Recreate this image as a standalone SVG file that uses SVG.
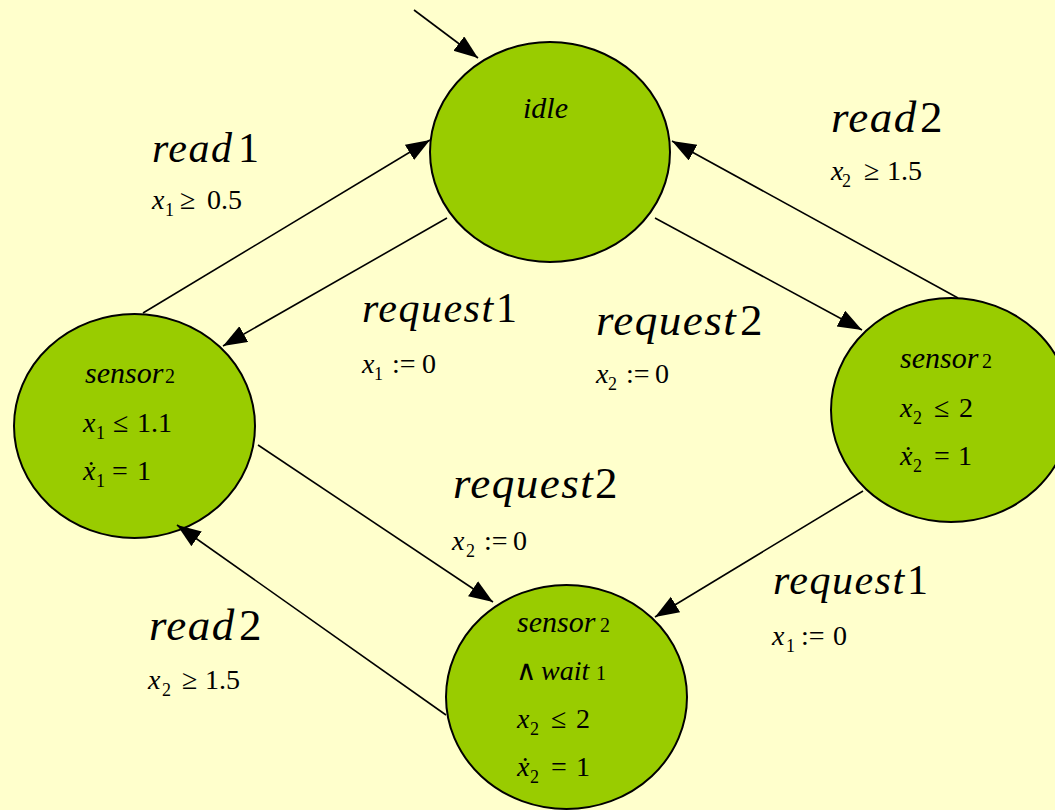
<svg xmlns="http://www.w3.org/2000/svg" width="1055" height="810" viewBox="0 0 1055 810">
<defs>
<marker id="arr" markerUnits="userSpaceOnUse" markerWidth="26" markerHeight="20" refX="24" refY="9" orient="auto">
<path d="M0,0 L24,9 L0,18 z" fill="#000"/>
</marker>
</defs>
<rect x="0" y="0" width="1055" height="810" fill="#FFFFCC"/>

<g id="idle">
<ellipse cx="550" cy="152" rx="120" ry="110" fill="#99CC00" stroke="#000" stroke-width="2"/>
<text x="523" y="118" font-family="Liberation Serif" font-size="30" font-style="italic">idle</text>
</g>

<g id="sensor2-left">
<ellipse cx="134.5" cy="426" rx="120.5" ry="112" fill="#99CC00" stroke="#000" stroke-width="2"/>
<text x="85" y="383" font-family="Liberation Serif" font-size="30" font-style="italic">sensor</text>
<text x="165" y="383" font-family="Liberation Serif" font-size="20">2</text>
<text x="83" y="432" font-family="Liberation Serif" font-size="28" font-style="italic">x</text>
<text x="96" y="439" font-family="Liberation Serif" font-size="18">1</text>
<text x="113" y="432" font-family="Liberation Serif" font-size="28">&#x2264;</text>
<text x="137" y="432" font-family="Liberation Serif" font-size="28">1.1</text>
<text x="83" y="480" font-family="Liberation Serif" font-size="28" font-style="italic">&#x1E8B;</text>
<text x="96" y="487" font-family="Liberation Serif" font-size="18">1</text>
<text x="112" y="480" font-family="Liberation Serif" font-size="28">=</text>
<text x="137" y="480" font-family="Liberation Serif" font-size="28">1</text>
</g>

<g id="sensor2-right">
<ellipse cx="951" cy="410" rx="120" ry="112" fill="#99CC00" stroke="#000" stroke-width="2"/>
<text x="900" y="368" font-family="Liberation Serif" font-size="30" font-style="italic">sensor</text>
<text x="982" y="368" font-family="Liberation Serif" font-size="20">2</text>
<text x="900" y="417" font-family="Liberation Serif" font-size="28" font-style="italic">x</text>
<text x="913" y="424" font-family="Liberation Serif" font-size="18">2</text>
<text x="934" y="417" font-family="Liberation Serif" font-size="28">&#x2264;</text>
<text x="959" y="417" font-family="Liberation Serif" font-size="28">2</text>
<text x="900" y="465" font-family="Liberation Serif" font-size="28" font-style="italic">&#x1E8B;</text>
<text x="913" y="472" font-family="Liberation Serif" font-size="18">2</text>
<text x="934" y="465" font-family="Liberation Serif" font-size="28">=</text>
<text x="958" y="465" font-family="Liberation Serif" font-size="28">1</text>
</g>

<g id="sensor2-wait1">
<ellipse cx="566.5" cy="697" rx="120.5" ry="112" fill="#99CC00" stroke="#000" stroke-width="2"/>
<text x="517" y="632" font-family="Liberation Serif" font-size="30" font-style="italic">sensor</text>
<text x="600" y="632" font-family="Liberation Serif" font-size="20">2</text>
<text x="516" y="680" font-family="Liberation Serif" font-size="28">&#x2227;</text>
<text x="541" y="680" font-family="Liberation Serif" font-size="28" font-style="italic">wait</text>
<text x="596" y="680" font-family="Liberation Serif" font-size="20">1</text>
<text x="517" y="728" font-family="Liberation Serif" font-size="28" font-style="italic">x</text>
<text x="530" y="735" font-family="Liberation Serif" font-size="18">2</text>
<text x="551" y="728" font-family="Liberation Serif" font-size="28">&#x2264;</text>
<text x="576" y="728" font-family="Liberation Serif" font-size="28">2</text>
<text x="517" y="776" font-family="Liberation Serif" font-size="28" font-style="italic">&#x1E8B;</text>
<text x="530" y="783" font-family="Liberation Serif" font-size="18">2</text>
<text x="551" y="776" font-family="Liberation Serif" font-size="28">=</text>
<text x="576" y="776" font-family="Liberation Serif" font-size="28">1</text>
</g>

<g id="connectors" stroke="#000" stroke-width="1.6" fill="none" marker-end="url(#arr)">
<line x1="414" y1="10" x2="478" y2="58"/>
<line x1="143" y1="313" x2="430" y2="140"/>
<line x1="447" y1="218" x2="223" y2="346"/>
<line x1="958" y1="298" x2="672" y2="141"/>
<line x1="655" y1="218" x2="862" y2="330"/>
<line x1="258" y1="445" x2="493" y2="602"/>
<line x1="446" y1="715" x2="177" y2="525"/>
<line x1="863" y1="491" x2="655" y2="617"/>
</g>

<g id="labels">
<text x="152" y="162" font-family="Liberation Serif" font-size="42" font-style="italic" letter-spacing="1.5">read</text>
<text x="238" y="162" font-family="Liberation Serif" font-size="42">1</text>
<text x="152" y="209" font-family="Liberation Serif" font-size="28" font-style="italic">x</text>
<text x="165" y="216" font-family="Liberation Serif" font-size="18">1</text>
<text x="180" y="209" font-family="Liberation Serif" font-size="28">&#x2265;</text>
<text x="207" y="209" font-family="Liberation Serif" font-size="28">0.5</text>

<text x="362" y="322" font-family="Liberation Serif" font-size="42" font-style="italic" letter-spacing="1.5">request</text>
<text x="496" y="322" font-family="Liberation Serif" font-size="42">1</text>
<text x="362" y="373" font-family="Liberation Serif" font-size="28" font-style="italic">x</text>
<text x="374" y="380" font-family="Liberation Serif" font-size="18">1</text>
<text x="392" y="373" font-family="Liberation Serif" font-size="28">:=</text>
<text x="422" y="373" font-family="Liberation Serif" font-size="28">0</text>

<text x="596" y="335" font-family="Liberation Serif" font-size="45" font-style="italic" letter-spacing="1.5">request</text>
<text x="740" y="335" font-family="Liberation Serif" font-size="45">2</text>
<text x="596" y="383" font-family="Liberation Serif" font-size="28" font-style="italic">x</text>
<text x="608" y="390" font-family="Liberation Serif" font-size="18">2</text>
<text x="626" y="383" font-family="Liberation Serif" font-size="28">:=</text>
<text x="655" y="383" font-family="Liberation Serif" font-size="28">0</text>

<text x="831" y="132" font-family="Liberation Serif" font-size="45" font-style="italic" letter-spacing="1.5">read</text>
<text x="920" y="132" font-family="Liberation Serif" font-size="45">2</text>
<text x="831" y="180" font-family="Liberation Serif" font-size="28" font-style="italic">x</text>
<text x="842" y="187" font-family="Liberation Serif" font-size="18">2</text>
<text x="864" y="180" font-family="Liberation Serif" font-size="28">&#x2265;</text>
<text x="887" y="180" font-family="Liberation Serif" font-size="28">1.5</text>

<text x="453" y="498" font-family="Liberation Serif" font-size="45" font-style="italic" letter-spacing="1.5">request</text>
<text x="595" y="498" font-family="Liberation Serif" font-size="45">2</text>
<text x="452" y="550" font-family="Liberation Serif" font-size="28" font-style="italic">x</text>
<text x="466" y="557" font-family="Liberation Serif" font-size="18">2</text>
<text x="484" y="550" font-family="Liberation Serif" font-size="28">:=</text>
<text x="513" y="550" font-family="Liberation Serif" font-size="28">0</text>

<text x="149" y="640" font-family="Liberation Serif" font-size="45" font-style="italic" letter-spacing="1.5">read</text>
<text x="239" y="640" font-family="Liberation Serif" font-size="45">2</text>
<text x="148" y="689" font-family="Liberation Serif" font-size="28" font-style="italic">x</text>
<text x="162" y="696" font-family="Liberation Serif" font-size="18">2</text>
<text x="182" y="689" font-family="Liberation Serif" font-size="28">&#x2265;</text>
<text x="205" y="689" font-family="Liberation Serif" font-size="28">1.5</text>

<text x="773" y="594" font-family="Liberation Serif" font-size="42" font-style="italic" letter-spacing="1.5">request</text>
<text x="907" y="594" font-family="Liberation Serif" font-size="42">1</text>
<text x="772" y="645" font-family="Liberation Serif" font-size="28" font-style="italic">x</text>
<text x="786" y="652" font-family="Liberation Serif" font-size="18">1</text>
<text x="801" y="645" font-family="Liberation Serif" font-size="28">:=</text>
<text x="833" y="645" font-family="Liberation Serif" font-size="28">0</text>
</g>
</svg>
